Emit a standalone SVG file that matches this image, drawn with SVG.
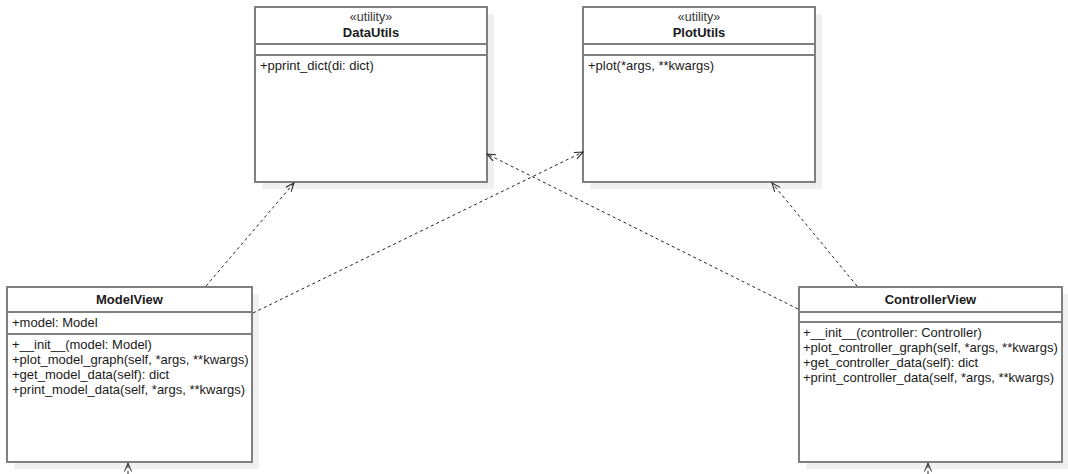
<svg xmlns="http://www.w3.org/2000/svg" width="1068" height="474" viewBox="0 0 1068 474">
<style>
.shadow{fill:#f0f0f0;stroke:none}
.box{fill:#ffffff;stroke:#7f7f7f;stroke-width:2}
.div{stroke:#7f7f7f;stroke-width:2}
text{font-family:"Liberation Sans",Arial,sans-serif;font-size:13px;fill:#1a1a1a}
.title{font-weight:bold;text-anchor:middle}
.stereo{text-anchor:middle;fill:#333333;font-size:12.5px}
.edge{fill:none;stroke:#222222;stroke-width:1;stroke-dasharray:3 3}
</style>
<defs>
<marker id="open" markerUnits="userSpaceOnUse" markerWidth="12" markerHeight="12" refX="9" refY="4" orient="auto">
<path d="M0.5,0.5 L9,4 L0.5,7.5" fill="none" stroke="#222222" stroke-width="1"/>
</marker>
</defs>

<g id="DataUtils">
<rect class="shadow" x="262" y="14" width="232" height="175"/>
<rect class="box" x="255" y="7" width="232" height="175"/>
<line class="div" x1="255" y1="44" x2="487" y2="44"/>
<line class="div" x1="255" y1="55" x2="487" y2="55"/>
<text class="stereo" x="371" y="21">«utility»</text>
<text class="title" x="371" y="37">DataUtils</text>
<text x="260" y="70">+pprint_dict(di: dict)</text>
</g>

<g id="PlotUtils">
<rect class="shadow" x="590" y="14" width="232" height="175"/>
<rect class="box" x="583" y="7" width="232" height="175"/>
<line class="div" x1="583" y1="44" x2="815" y2="44"/>
<line class="div" x1="583" y1="55" x2="815" y2="55"/>
<text class="stereo" x="699" y="21">«utility»</text>
<text class="title" x="699" y="37">PlotUtils</text>
<text x="588" y="70">+plot(*args, **kwargs)</text>
</g>

<g id="ModelView">
<rect class="shadow" x="14" y="294" width="245" height="175"/>
<rect class="box" x="7" y="287" width="245" height="175"/>
<line class="div" x1="7" y1="312" x2="252" y2="312"/>
<line class="div" x1="7" y1="334" x2="252" y2="334"/>
<text class="title" x="129.5" y="304">ModelView</text>
<text x="12" y="327">+model: Model</text>
<text x="12" y="349">+__init__(model: Model)</text>
<text x="12" y="364">+plot_model_graph(self, *args, **kwargs)</text>
<text x="12" y="379">+get_model_data(self): dict</text>
<text x="12" y="394">+print_model_data(self, *args, **kwargs)</text>
</g>

<g id="ControllerView">
<rect class="shadow" x="806" y="294" width="263" height="175"/>
<rect class="box" x="799" y="287" width="263" height="175"/>
<line class="div" x1="799" y1="312" x2="1062" y2="312"/>
<line class="div" x1="799" y1="322" x2="1062" y2="322"/>
<text class="title" x="930.5" y="304">ControllerView</text>
<text x="803" y="337">+__init__(controller: Controller)</text>
<text x="803" y="352">+plot_controller_graph(self, *args, **kwargs)</text>
<text x="803" y="367">+get_controller_data(self): dict</text>
<text x="803" y="382">+print_controller_data(self, *args, **kwargs)</text>
</g>

<g id="connectors">
<line class="edge" x1="206" y1="286" x2="294" y2="183" marker-end="url(#open)"/>
<line class="edge" x1="253" y1="313" x2="583" y2="152" marker-end="url(#open)"/>
<line class="edge" x1="798" y1="309" x2="487" y2="154" marker-end="url(#open)"/>
<line class="edge" x1="857" y1="286" x2="772" y2="183" marker-end="url(#open)"/>
<line class="edge" x1="128" y1="480" x2="128" y2="463" marker-end="url(#open)"/>
<line class="edge" x1="928" y1="480" x2="928" y2="463" marker-end="url(#open)"/>
</g>
</svg>
